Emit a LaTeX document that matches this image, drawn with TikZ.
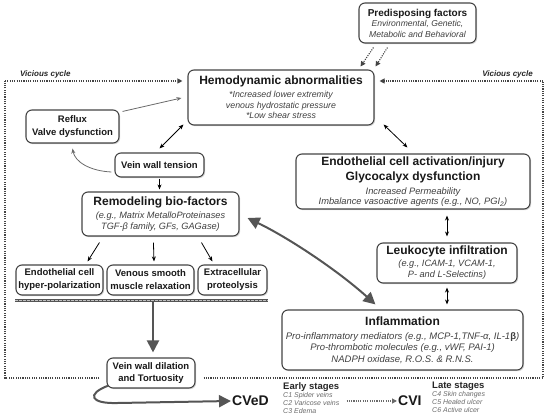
\documentclass[tikz,border=0pt]{standalone}
\usepackage{fontspec}
\setmainfont{Liberation Sans}
\usetikzlibrary{arrows.meta,shadows,calc}
\definecolor{bord}{HTML}{444444}
\definecolor{subtx}{HTML}{404040}
\definecolor{thk}{HTML}{555555}
\definecolor{lgray}{HTML}{6A6A6A}
\newcommand{\hdf}{\fontsize{12}{14}\selectfont\bfseries\upshape\color{black!90}}
\begin{document}
\begin{tikzpicture}[x=1pt,y=-1pt,
  box/.style={draw=bord, line width=1.1pt, rounded corners=6pt, fill=white,
    drop shadow={shadow xshift=1.2pt,shadow yshift=-1.2pt,fill=black!30},
    inner sep=0pt, align=center, text=subtx},
  sbox/.style={box, text=black!90, font=\fontsize{9.5}{13}\selectfont\bfseries},
  thin/.style={draw=black, line width=0.8pt, -{Stealth[length=5pt,width=4pt]}},
  thinboth/.style={draw=black, line width=0.8pt, {Stealth[length=5pt,width=4pt]}-{Stealth[length=5pt,width=4pt]}},
  grayarr/.style={draw=lgray, line width=0.8pt, -{Stealth[length=5pt,width=4pt]}},
  dotarr/.style={draw=bord, line width=1.1pt, dash pattern=on 1.1pt off 1.2pt, -{Triangle[length=5pt,width=5pt]}},
  vcline/.style={draw=bord, line width=1.1pt, dash pattern=on 1.1pt off 1.2pt},
  thickarr/.style={draw=thk, line width=2pt, -{Triangle[length=12pt,width=12pt]}},
  thickboth/.style={draw=thk, line width=2pt, {Triangle[length=12pt,width=12pt]}-{Triangle[length=12pt,width=12pt]}},
  vclab/.style={font=\fontsize{8}{9}\selectfont\bfseries\itshape, text=black!85, inner sep=0pt},
  stagelab/.style={align=left, inner sep=0pt, text=lgray, font=\fontsize{7}{8}\selectfont\itshape}
]
\useasboundingbox (0,0) rectangle (550,419);

% boxes
\node[box, minimum width=117pt, minimum height=40pt, font=\fontsize{8.6}{10.5}\selectfont\itshape] (pred) at (417.5,23)
  {{\fontsize{10}{12}\selectfont\bfseries\upshape\color{black!90}Predisposing factors}\\ Environmental, Genetic,\\ Metabolic and Behavioral};
\node[box, minimum width=186pt, minimum height=55pt, font=\fontsize{8.8}{10.5}\selectfont\itshape] (hemo) at (281,97.5)
  {{\hdf Hemodynamic abnormalities}\\[2.5pt] *Increased lower extremity\\ venous hydrostatic pressure\\ *Low shear stress};
\node[sbox, minimum width=93pt, minimum height=33pt] (reflux) at (72.5,126.5) {Reflux\\ Valve dysfunction};
\node[sbox, minimum width=89pt, minimum height=24pt] (vwt) at (159.5,165) {Vein wall tension};
\node[box, minimum width=157pt, minimum height=44pt, font=\fontsize{9.2}{11}\selectfont\itshape] (remod) at (160.5,214)
  {{\hdf Remodeling bio-factors}\\[2pt] (e.g., Matrix MetalloProteinases\\ TGF-β family, GFs, GAGase)};
\node[sbox, minimum width=87pt, minimum height=30pt] (endo) at (59.5,280) {Endothelial cell\\ hyper-polarization};
\node[sbox, minimum width=87pt, minimum height=30pt] (vsm) at (150.5,280) {Venous smooth\\ muscle relaxation};
\node[sbox, minimum width=69pt, minimum height=30pt] (ecp) at (232.5,280) {Extracellular\\ proteolysis};
\node[sbox, minimum width=88pt, minimum height=30pt, font=\fontsize{9.5}{12}\selectfont\bfseries] (vwd) at (151,373) {Vein wall dilation\\ and Tortuosity};
\node[box, minimum width=234pt, minimum height=55pt, font=\fontsize{9.3}{10.5}\selectfont\itshape] (eca) at (413,181.5)
  {{\hdf Endothelial cell activation/injury}\\[3pt] {\hdf Glycocalyx dysfunction}\\[3.5pt] Increased Permeability\\ Imbalance vasoactive agents (e.g., NO, PGI\textsubscript{2})};
\node[box, minimum width=140pt, minimum height=40pt, font=\fontsize{9.2}{11.5}\selectfont\itshape] (leuk) at (447,263)
  {{\hdf Leukocyte infiltration}\\ (e.g., ICAM-1, VCAM-1,\\ P- and L-Selectins)};
\node[box, minimum width=241pt, minimum height=60pt, font=\fontsize{9.5}{11.5}\selectfont\itshape] (infl) at (402.5,340)
  {{\hdf Inflammation}\\[2.5pt] Pro-inflammatory mediators (e.g., MCP-1,TNF-α, IL-1{\upshape\bfseries β})\\ Pro-thrombotic molecules (e.g., vWF, PAI-1)\\ NADPH oxidase, R.O.S. \& R.N.S.};

% bottom labels
\node[font=\fontsize{14}{16}\selectfont\bfseries, anchor=west, inner sep=1pt, text=black!90] (cved) at (231,401) {CVeD};
\node[font=\fontsize{14}{16}\selectfont\bfseries, anchor=west, inner sep=1pt, text=black!90] (cvi) at (397,401) {CVI};
\node[stagelab, anchor=north west] (early) at (283,382)
  {{\fontsize{9.5}{11}\selectfont\bfseries\upshape\color{black!85}Early stages}\\ C1 Spider veins\\ C2 Varicose veins\\ C3 Edema};
\node[stagelab, anchor=north west] (late) at (432,382)
  {{\fontsize{9.5}{11}\selectfont\bfseries\upshape\color{black!85}Late stages}\\ C4 Skin changes\\ C5 Healed ulcer\\ C6 Active ulcer};

% vicious cycle
\coordinate (bl) at (5,378);
\coordinate (tl) at (5,81);
\coordinate (br) at (543,378);
\coordinate (tr) at (543,81);
\node[vclab, anchor=west] (vcl) at (20,74) {Vicious cycle};
\node[vclab, anchor=east] (vcr) at (533,74) {Vicious cycle};
\draw[vcline] ($(vwd.west |- bl)+(-7,0)$) -- (bl) -- (tl);
\draw[dotarr] (tl) -- ($(hemo.west |- tl)+(-5,0)$);
\draw[vcline] ($(vwd.east |- br)+(8,0)$) -- (br) -- (tr);
\draw[dotarr] (tr) -- ($(hemo.east |- tr)+(5,0)$);

% predisposing
\draw[dotarr] ($(pred.south west)+(15,4)$) -- ($(hemo.north east)+(-14,-3)$);
\draw[dotarr] ($(pred.south west)+(29,4)$) -- ($(hemo.north east)+(1,-3)$);

% thin connectors
\draw[grayarr] ($(reflux.north east)+(3,2)$) -- ($(hemo.west)+(-6,0.5)$);
\draw[grayarr] ($(vwt.west)+(-3,7)$) .. controls (90,171) and (75,162) .. ($(reflux.south)+(0,5)$);
\draw[thinboth] ($(hemo.south west)+(-4,-1)$) -- ($(vwt.north)+(0,-4)$);
\draw[thinboth] ($(hemo.south east)+(9,-1)$) -- ($(eca.north west)+(112,-6)$);
\draw[thinboth] ($(leuk.north |- eca.south)+(0,6)$) -- ($(leuk.north)+(0,-6)$);
\draw[thinboth] ($(leuk.south)+(0,4)$) -- ($(leuk.south |- infl.north)+(0,-5)$);
\draw[thin] ($(vwt.south)+(0,1)$) -- ($(vwt.south |- remod.north)+(0,-2)$);
\draw[thin] ($(remod.south west)+(18,6)$) -- ($(endo.north east)+(-16,-3)$);
\draw[thin] ($(remod.south west)+(72,6)$) -- ($(vsm.north)+(3.5,-3)$);
\draw[thin] ($(remod.south west)+(120,6)$) -- ($(ecp.north west)+(15,-3)$);

% bar and thick arrows
\coordinate (barL) at ($(endo.south west)+(0,5)$);
\coordinate (barR) at ($(ecp.south east)+(0,5)$);
\draw[draw=thk, line width=2.6pt] (barL) -- (barR);
\draw[draw=white!75!black, line width=0.5pt, dash pattern=on 3pt off 1pt] (barL) -- (barR);
\draw[thickarr] ($(vsm.south |- barL)+(2.5,0)$) -- ($(vwd.north)+(2,-5)$);
\draw[thickarr] ($(vwd.south west)+(2,-3)$) .. controls (86,394) and (90,404) .. (118,403) -- (cved.west);
\draw[thickboth] ($(remod.east)+(8,4)$) .. controls (287,237) and (336,269) .. ($(infl.north west)+(94,-5)$);

% stages arrow
\draw[dotarr, draw=lgray] ($(early.east |- cvi.west)+(7,0)$) -- (cvi.west);
\end{tikzpicture}
\end{document}
